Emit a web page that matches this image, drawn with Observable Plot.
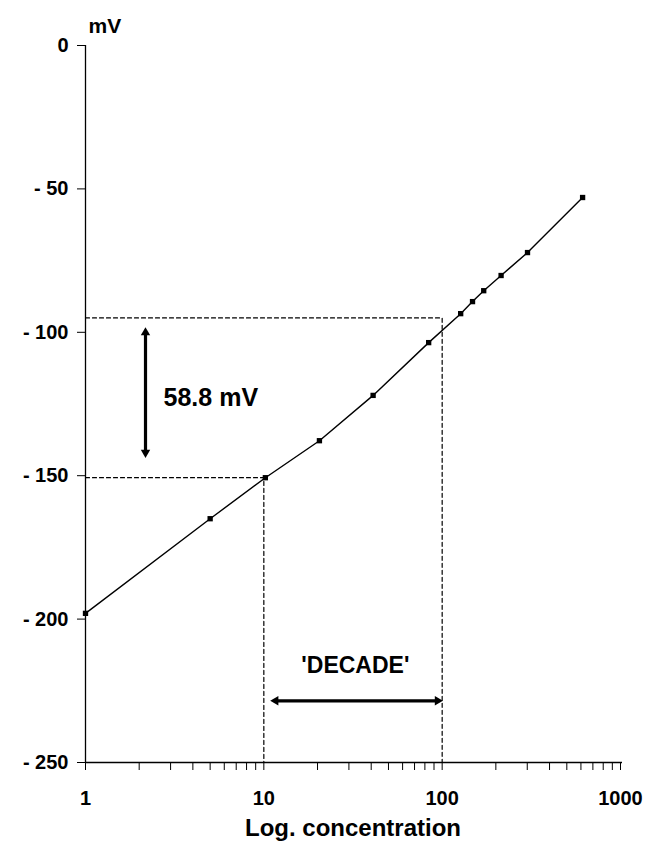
<!DOCTYPE html>
<html>
<head>
<meta charset="utf-8">
<script src="https://cdn.jsdelivr.net/npm/d3@7"></script>
<script src="https://cdn.jsdelivr.net/npm/@observablehq/plot@0.6"></script>
<style>
  html, body { margin: 0; padding: 0; background: #fff; }
  #chart svg { display: block; }
</style>
</head>
<body>
<div id="chart"></div>
<script>
// Electrode response: potential (mV) versus concentration (log scale)
const concentration = [1, 5, 10.2, 20.5, 41, 84, 127, 148, 171, 214, 301, 613];
const potential = [-198, -165, -150.7, -137.8, -122, -103.6, -93.5, -89.3, -85.5, -80.2, -72.2, -53];

// Axis ticks
const yTicks = [0, -50, -100, -150, -200, -250];
const xMajor = [1, 10, 100, 1000];
const xTicks = [1, 2, 3, 4, 5, 6, 7, 8, 9, 10, 20, 30, 40, 50, 60, 70, 80, 90,
                100, 200, 300, 400, 500, 600, 700, 800, 900, 1000];

// Guide lines marking one decade and the matching potential step
const guideHigh = {conc: 100, mv: -95};
const guideLow = {conc: 10, mv: -150.7};
const slopeLabel = "58.8 mV";
const decadeLabel = "'DECADE'";

// Double-headed arrows (annotation positions in data units)
const slopeArrow = {x: 2.17, y1: -100.1, y2: -141.9};
const decadeArrow = {y: -228.5, x1: 11.65, x2: 94.2};

const data = concentration.map((c, i) => ({c, v: potential[i]}));
const font = "'Liberation Sans', Arial, Helvetica, sans-serif";

const guides = [
  [{x: 1, y: guideHigh.mv}, {x: guideHigh.conc, y: guideHigh.mv}, {x: guideHigh.conc, y: -250}],
  [{x: 1, y: guideLow.mv}, {x: guideLow.conc, y: guideLow.mv}, {x: guideLow.conc, y: -250}]
];

const heads = [
  {x: slopeArrow.x, y: slopeArrow.y1, r: 0},
  {x: slopeArrow.x, y: slopeArrow.y2, r: 180},
  {x: decadeArrow.x1, y: decadeArrow.y, r: -90},
  {x: decadeArrow.x2, y: decadeArrow.y, r: 90}
];

const fmtY = d => d === 0 ? "0" : "- " + Math.abs(d);

const chart = Plot.plot({
  width: 661,
  height: 861,
  marginLeft: 85,
  marginRight: 41,
  marginTop: 45,
  marginBottom: 99,
  style: {fontFamily: font, fontWeight: "bold", fontSize: "20px", color: "#000", background: "#fff"},
  x: {type: "log", domain: [1, 1000]},
  y: {domain: [-250, 0]},
  marks: [
    // dashed guides
    ...guides.map(g => Plot.line(g, {x: "x", y: "y", stroke: "#000", strokeWidth: 1.2, strokeDasharray: "4,3"})),
    // axis lines
    Plot.ruleX([1], {stroke: "#000", strokeWidth: 1.3}),
    Plot.ruleY([-250], {stroke: "#000", strokeWidth: 1.3, insetRight: -2}),
    Plot.axisY({
      ticks: yTicks, tickSize: 8, tickPadding: 9, tickFormat: fmtY,
      label: null, fontSize: 20, fontWeight: "bold"
    }),
    Plot.axisX({
      ticks: xTicks, tickSize: 8, tickPadding: 20,
      tickFormat: d => xMajor.includes(d) ? String(d) : "",
      label: null, fontSize: 20, fontWeight: "bold"
    }),
    Plot.text(["Log. concentration"], {
      frameAnchor: "bottom", dy: 73, fontSize: 24, fontWeight: "bold"
    }),
    Plot.text(["mV"], {
      frameAnchor: "top-left", dx: 3, dy: -27, textAnchor: "start", fontSize: 21, fontWeight: "bold"
    }),
    // response curve
    Plot.line(data, {x: "c", y: "v", stroke: "#000", strokeWidth: 1.4}),
    Plot.dot(data, {x: "c", y: "v", symbol: "square", r: 3, fill: "#000"}),
    // annotation arrows
    Plot.link([slopeArrow], {x1: "x", x2: "x", y1: "y1", y2: "y2", stroke: "#000", strokeWidth: 3.2}),
    Plot.link([decadeArrow], {x1: "x1", x2: "x2", y1: "y", y2: "y", stroke: "#000", strokeWidth: 3.2}),
    Plot.dot(heads, {x: "x", y: "y", rotate: "r", symbol: "triangle2", r: 4.5, fill: "#000"}),
    Plot.text([slopeLabel], {x: 2.74, y: -122.8, textAnchor: "start", fontSize: 25, fontWeight: "bold"}),
    Plot.text([decadeLabel], {x: 32.6, y: -216.3, fontSize: 23, fontWeight: "bold"})
  ]
});

document.getElementById("chart").appendChild(chart);
</script>
</body>
</html>
